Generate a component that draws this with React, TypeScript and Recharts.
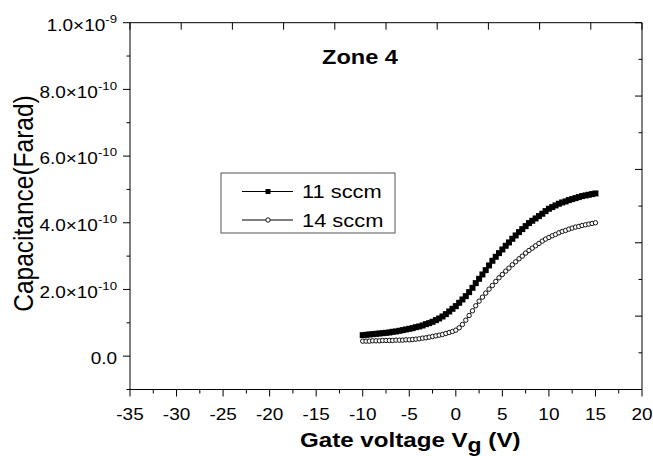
import React from 'react';
import { LineChart, Line, XAxis, YAxis } from 'recharts';

// gate voltage samples (V)
const volts = [
  -10.0, -9.64, -9.29, -8.93, -8.57, -8.21, -7.86, -7.5, -7.14, -6.79,
  -6.43, -6.07, -5.71, -5.36, -5.0, -4.64, -4.29, -3.93, -3.57, -3.21,
  -2.86, -2.5, -2.14, -1.79, -1.43, -1.07, -0.71, -0.36, 0.0, 0.36,
  0.71, 1.07, 1.43, 1.79, 2.14, 2.5, 2.86, 3.21, 3.57, 3.93,
  4.29, 4.64, 5.0, 5.36, 5.71, 6.07, 6.43, 6.79, 7.14, 7.5,
  7.86, 8.21, 8.57, 8.93, 9.29, 9.64, 10.0, 10.36, 10.71, 11.07,
  11.43, 11.79, 12.14, 12.5, 12.86, 13.21, 13.57, 13.93, 14.29, 14.64,
  15.0,
];

// capacitance, in units of 1e-10 F
const c11sccm = [
  0.63, 0.64, 0.65, 0.66, 0.67, 0.68, 0.69, 0.7, 0.71, 0.73,
  0.74, 0.76, 0.78, 0.8, 0.82, 0.84, 0.87, 0.89, 0.92, 0.96,
  0.99, 1.03, 1.08, 1.13, 1.19, 1.26, 1.34, 1.42, 1.5, 1.6,
  1.7, 1.8, 1.92, 2.05, 2.19, 2.32, 2.45, 2.58, 2.72, 2.86,
  2.98, 3.09, 3.2, 3.31, 3.41, 3.52, 3.62, 3.72, 3.81, 3.9,
  3.99, 4.06, 4.13, 4.2, 4.27, 4.35, 4.42, 4.47, 4.52, 4.57,
  4.61, 4.64, 4.68, 4.71, 4.74, 4.77, 4.8, 4.82, 4.84, 4.86,
  4.88,
];

const c14sccm = [
  0.45, 0.45, 0.45, 0.46, 0.46, 0.46, 0.47, 0.47, 0.47, 0.47,
  0.48, 0.48, 0.48, 0.49, 0.49, 0.5, 0.51, 0.52, 0.54, 0.55,
  0.57, 0.59, 0.61, 0.63, 0.65, 0.68, 0.71, 0.74, 0.78, 0.85,
  0.95, 1.08, 1.22, 1.36, 1.51, 1.65, 1.77, 1.89, 2.01, 2.12,
  2.24, 2.35, 2.45, 2.55, 2.64, 2.74, 2.83, 2.92, 3.0, 3.09,
  3.17, 3.24, 3.31, 3.38, 3.45, 3.51, 3.56, 3.61, 3.65, 3.7,
  3.74, 3.77, 3.81, 3.84, 3.87, 3.89, 3.92, 3.94, 3.96, 3.98,
  4.0,
];

const xTicks = [-35, -32.5, -30, -27.5, -25, -22.5, -20, -17.5, -15, -12.5, -10, -7.5, -5, -2.5, 0, 2.5, 5, 7.5, 10, 12.5, 15, 17.5, 20];
const yTicks = [-1, 0, 1, 2, 3, 4, 5, 6, 7, 8, 9, 10];
const topTicks = [-35, -29.5, -24, -18.5, -13, -7.5, -2, 3.5, 9, 14.5, 20];
const rightTicks = [-1, 0.1, 1.2, 2.3, 3.4, 4.5, 5.6, 6.7, 7.8, 8.9, 10];
const yLabels: Record<number, [string, string]> = {
  0: ['0.0', ''],
  2: ['2.0\u00d710', '-10'],
  4: ['4.0\u00d710', '-10'],
  6: ['6.0\u00d710', '-10'],
  8: ['8.0\u00d710', '-10'],
  10: ['1.0\u00d710', '-9'],
};

const data = volts.map((v, i) => ({ v, c11: c11sccm[i], c14: c14sccm[i] }));

const FONT = '"Liberation Sans", Arial, sans-serif';
const SX = 1.15;

function BottomTick(props: any) {
  const { x, y, payload } = props;
  const v = payload.value;
  const major = v % 5 === 0;
  return (
    <g>
      <line x1={x} x2={x} y1={y} y2={y + (major ? 7 : 4)} stroke="#000" />
      {major && (
        <text transform={`translate(${x},${y + 30}) scale(${SX},1)`} textAnchor="middle" fontSize={16.5} fontFamily={FONT} fill="#000">
          {v}
        </text>
      )}
    </g>
  );
}

function LeftTick(props: any) {
  const { x, y, payload } = props;
  const v = payload.value;
  const lab = yLabels[v];
  return (
    <g>
      <line x1={x - (lab ? 7 : 3.5)} x2={x} y1={y} y2={y} stroke="#000" />
      {lab && (
        <text transform={`translate(${x - 13},${y + 8.3}) scale(${SX},1)`} textAnchor="end" fontSize={16.5} fontFamily={FONT} fill="#000">
          {lab[0]}
          {lab[1] && <tspan dy={-8} fontSize={11.5}>{lab[1]}</tspan>}
        </text>
      )}
    </g>
  );
}

function TopTick(props: any) {
  const { x, y } = props;
  return <line x1={x} x2={x} y1={y} y2={y + 7} stroke="#000" />;
}

function RightTick(props: any) {
  const { x, y, index } = props;
  const len = index % 2 === 0 ? 7 : 3.5;
  return <line x1={x - len} x2={x} y1={y} y2={y} stroke="#000" />;
}

function Square(props: any) {
  const { cx, cy, index } = props;
  return <rect key={`s${index}`} x={cx - 3} y={cy - 3} width={6} height={6} fill="#000" />;
}

function Ring(props: any) {
  const { cx, cy, index } = props;
  return <circle key={`c${index}`} cx={cx} cy={cy} r={2.2} fill="#fff" stroke="#111" strokeWidth={1} />;
}

export default function App() {
  return (
    <div style={{ position: 'absolute', left: 0, top: 0, background: '#fff' }}>
      <LineChart width={653} height={456} data={data} margin={{ top: 21.7, right: 10, bottom: 65.5, left: 129 }}>
        <XAxis xAxisId="b" dataKey="v" type="number" domain={[-35, 20]} ticks={xTicks} interval={0}
          allowDataOverflow height={1} tickSize={0} tickMargin={0} tickLine={false} axisLine={{ stroke: '#000' }} tick={<BottomTick />} />
        <XAxis xAxisId="t" orientation="top" dataKey="v" type="number" domain={[-35, 20]} ticks={topTicks} interval={0}
          allowDataOverflow height={1} tickSize={0} tickMargin={0} tickLine={false} axisLine={{ stroke: '#000' }} tick={<TopTick />} />
        <YAxis yAxisId="l" type="number" domain={[-1, 10]} ticks={yTicks} interval={0}
          allowDataOverflow width={1} tickSize={0} tickMargin={0} tickLine={false} axisLine={{ stroke: '#000' }} tick={<LeftTick />} />
        <YAxis yAxisId="r" orientation="right" type="number" domain={[-1, 10]} ticks={rightTicks} interval={0}
          allowDataOverflow width={1} tickSize={0} tickMargin={0} tickLine={false} axisLine={{ stroke: '#000' }} tick={<RightTick />} />

        <Line xAxisId="b" yAxisId="l" dataKey="c11" type="linear" stroke="#000" strokeWidth={1} dot={Square} isAnimationActive={false} />
        <Line xAxisId="b" yAxisId="l" dataKey="c14" type="linear" stroke="#000" strokeWidth={1} dot={Ring} isAnimationActive={false} />

        <text transform={`translate(322,64) scale(${SX},1)`} fontSize={20.5} fontWeight="bold" fontFamily={FONT} fill="#000">Zone 4</text>

        <text transform={`translate(33,203.5) scale(${SX},1) rotate(-90)`} textAnchor="middle" fontSize={24.5} fontFamily={FONT} fill="#000">
          Capacitance(Farad)
        </text>
        <text transform={`translate(300,447) scale(${SX},1)`} fontSize={21} fontWeight="bold" fontFamily={FONT} fill="#000">
          Gate voltage V<tspan dy={5} fontSize={20}>g</tspan><tspan dy={-5}> (V)</tspan>
        </text>

        <g>
          <rect x={221} y={173} width={174} height={60} fill="#fff" stroke="#555" />
          <line x1={242} x2={293} y1={191.5} y2={191.5} stroke="#000" />
          <rect x={265.5} y={189} width={5} height={5} fill="#000" />
          <text transform={`translate(302,198) scale(${SX},1)`} fontSize={19} fontFamily={FONT} fill="#000">11 sccm</text>
          <line x1={242} x2={293} y1={220} y2={220} stroke="#000" />
          <circle cx={268} cy={220} r={2.2} fill="#fff" stroke="#111" strokeWidth={1} />
          <text transform={`translate(302,226.5) scale(${SX},1)`} fontSize={19} fontFamily={FONT} fill="#000">14 sccm</text>
        </g>
      </LineChart>
    </div>
  );
}
